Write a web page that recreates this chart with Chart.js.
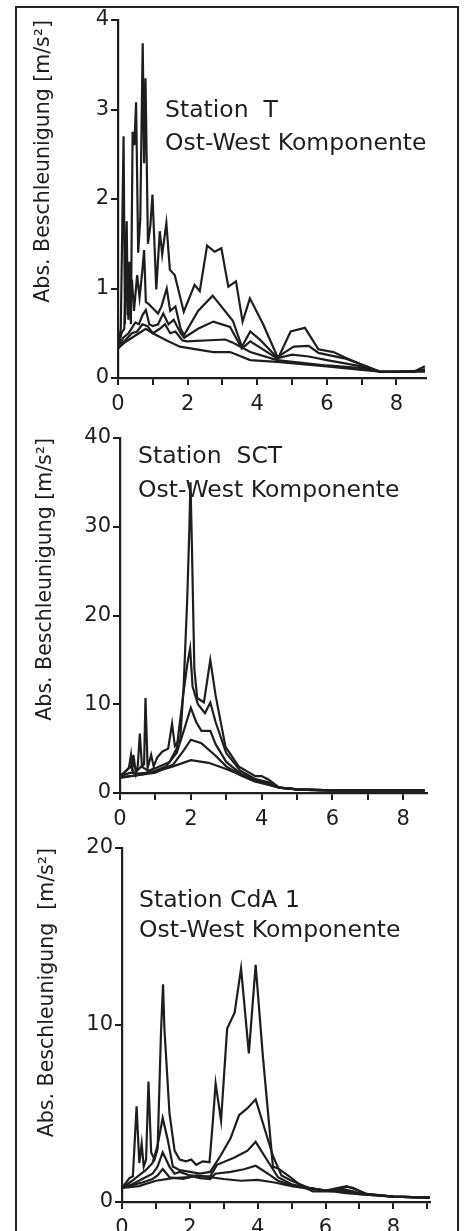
<!DOCTYPE html>
<html>
<head>
<meta charset="utf-8">
<title>Abs. Beschleunigung - Ost-West Komponente</title>
<script src="https://cdn.jsdelivr.net/npm/chart.js@4.4.1/dist/chart.umd.min.js"></script>
<style>
  html, body { margin: 0; padding: 0; background: #fff; }
  body { width: 466px; height: 1231px; position: relative; overflow: hidden; }
  #frame { position: absolute; left: 15px; top: 6px; width: 440px; height: 1260px;
           border: 2px solid #222; border-bottom: none; }
  canvas { position: absolute; left: 0; }
</style>
</head>
<body>
<div id="frame"></div>
<canvas id="chartT" width="466" height="418" style="top:0"></canvas>
<canvas id="chartSCT" width="466" height="414" style="top:418px"></canvas>
<canvas id="chartCdA" width="466" height="430" style="top:832px"></canvas>

<script>
// Tick labels
const xTickLabels = ['0', '2', '4', '6', '8'];
const yTicksT = [0, 1, 2, 3, 4];
const yTicksSCT = [0, 10, 20, 30, 40];
const yTicksCdA = [0, 10, 20];
const yTitle = 'Abs. Beschleunigung [m/s²]';

// Station T, five spectra  [x, value]
const tCurve1 = [[0,0.33],[0.08,0.55],[0.16,2.7],[0.2,0.6],[0.25,1.75],[0.28,0.7],[0.33,1.3],[0.37,0.6],[0.42,2.75],[0.47,2.6],[0.52,3.08],[0.58,1.4],[0.64,1.78],[0.71,3.74],[0.75,2.4],[0.79,3.35],[0.86,1.5],[0.93,1.7],[0.99,2.05],[1.1,0.99],[1.2,1.64],[1.27,1.38],[1.39,1.73],[1.49,1.21],[1.63,1.15],[1.89,0.74],[2.2,1.04],[2.35,0.97],[2.56,1.48],[2.78,1.41],[2.97,1.45],[3.17,1.02],[3.39,1.08],[3.58,0.63],[3.79,0.89],[4.17,0.6],[4.6,0.22],[4.96,0.52],[5.37,0.56],[5.76,0.32],[6.19,0.29],[6.57,0.22],[7.0,0.15],[7.53,0.07],[8.49,0.07],[8.82,0.13]];
const tCurve2 = [[0,0.33],[0.1,0.5],[0.18,0.55],[0.24,1.32],[0.3,0.65],[0.4,1.1],[0.46,0.75],[0.55,1.15],[0.62,0.9],[0.7,1.2],[0.75,1.43],[0.8,0.85],[0.9,0.82],[1.0,0.78],[1.15,0.72],[1.25,0.8],[1.4,1.0],[1.5,0.75],[1.65,0.8],[1.8,0.55],[1.9,0.48],[2.3,0.75],[2.72,0.92],[3.3,0.64],[3.56,0.35],[3.8,0.52],[4.1,0.42],[4.57,0.23],[5.05,0.35],[5.48,0.36],[5.76,0.28],[6.5,0.22],[7.0,0.15],[7.53,0.07],[8.5,0.07],[8.82,0.1]];
const tCurve3 = [[0,0.33],[0.15,0.45],[0.3,0.5],[0.5,0.62],[0.6,0.6],[0.7,0.7],[0.8,0.76],[0.9,0.6],[1.0,0.58],[1.15,0.6],[1.3,0.72],[1.45,0.6],[1.6,0.65],[1.8,0.5],[1.9,0.45],[2.3,0.55],[2.74,0.63],[3.22,0.57],[3.56,0.33],[3.8,0.41],[4.57,0.22],[5.0,0.26],[5.48,0.24],[6.0,0.2],[7.0,0.13],[7.53,0.07],[8.5,0.07],[8.82,0.09]];
const tCurve4 = [[0,0.33],[0.2,0.42],[0.4,0.5],[0.55,0.52],[0.7,0.6],[0.85,0.58],[1.0,0.5],[1.2,0.55],[1.35,0.6],[1.5,0.5],[1.65,0.52],[1.85,0.42],[1.98,0.41],[3.08,0.43],[3.32,0.39],[3.8,0.29],[4.57,0.2],[6.0,0.14],[7.0,0.11],[7.53,0.07],[8.82,0.08]];
const tCurve5 = [[0,0.33],[0.2,0.4],[0.4,0.45],[0.6,0.5],[0.8,0.55],[1.0,0.5],[1.4,0.42],[1.78,0.35],[2.74,0.29],[3.22,0.29],[3.8,0.2],[4.57,0.18],[6.0,0.13],[7.0,0.09],[7.53,0.07],[8.82,0.07]];

// Station SCT
const sctCurve1 = [[0,1.9],[0.1,2.2],[0.25,2.8],[0.31,4.3],[0.35,2.5],[0.38,4.3],[0.45,2.2],[0.5,3],[0.56,6.7],[0.62,3],[0.68,3.2],[0.72,10.7],[0.78,2.8],[0.88,4.3],[0.95,3],[1.05,4],[1.19,4.65],[1.36,5.0],[1.47,7.8],[1.55,5.3],[1.7,6],[1.8,12.2],[1.9,22],[1.96,30],[1.99,35],[2.03,28],[2.1,14],[2.18,10.7],[2.37,10.2],[2.55,15.0],[2.7,11],[2.98,5.2],[3.35,3.0],[3.82,1.9],[4.0,1.9],[4.2,1.5],[4.5,0.6],[5.0,0.4],[5.5,0.3],[8.6,0.3]];
const sctCurve2 = [[0,1.9],[0.3,3],[0.4,2.2],[0.6,3],[0.8,2.5],[1.0,2.8],[1.4,3.5],[1.6,5],[1.8,11.5],[1.9,14.5],[1.98,16.3],[2.05,12],[2.2,10],[2.4,9],[2.55,10.2],[2.7,8],[3.0,4.5],[3.4,2.5],[3.8,1.6],[4.2,1.2],[4.5,0.6],[5,0.4],[6,0.3],[8.6,0.3]];
const sctCurve3 = [[0,1.9],[0.3,2.3],[0.5,2.2],[0.8,2.3],[1.0,2.5],[1.3,3],[1.6,4.5],[1.8,7],[2.0,9.6],[2.15,8],[2.3,7],[2.55,7.0],[2.7,5.5],[3.0,3.5],[3.4,2.2],[3.8,1.5],[4.2,1.0],[4.5,0.6],[5,0.4],[6,0.3],[8.6,0.3]];
const sctCurve4 = [[0,1.8],[0.5,2.0],[1.0,2.3],[1.5,3.2],[1.8,4.8],[2.0,6.0],[2.3,5.6],[2.7,4.2],[3.0,3.0],[3.4,2.0],[3.8,1.3],[4.2,0.9],[4.5,0.6],[5,0.4],[6,0.3],[8.6,0.3]];
const sctCurve5 = [[0,1.7],[0.5,2.0],[1.0,2.4],[1.5,3.0],[2.0,3.7],[2.5,3.4],[3.0,2.7],[3.5,1.9],[4.0,1.2],[4.5,0.6],[5,0.4],[6,0.3],[8.6,0.3]];

// Station CdA 1
const cdaCurve1 = [[0,0.8],[0.22,1.35],[0.32,1.45],[0.43,5.4],[0.51,2.2],[0.58,3.3],[0.64,2.0],[0.71,2.4],[0.78,6.8],[0.86,2.8],[0.96,2.4],[1.05,3.0],[1.15,9.6],[1.21,12.3],[1.25,9.8],[1.4,5.0],[1.55,2.9],[1.7,2.4],[1.89,2.3],[2.04,2.4],[2.19,2.1],[2.38,2.3],[2.58,2.25],[2.68,4.6],[2.76,6.7],[2.92,4.6],[3.1,9.8],[3.32,10.7],[3.51,13.2],[3.74,8.4],[3.94,13.4],[4.15,8.3],[4.45,2.0],[4.6,1.9],[4.94,1.44],[5.29,0.9],[5.63,0.6],[6.2,0.6],[6.62,0.87],[6.8,0.8],[7.2,0.45],[8.0,0.3],[9.08,0.25]];
const cdaCurve2 = [[0,0.8],[0.3,1.2],[0.5,1.5],[0.7,1.8],[0.9,2.2],[1.05,3.2],[1.2,4.75],[1.35,3.5],[1.5,2.0],[1.7,1.8],[2.0,1.7],[2.3,1.6],[2.6,1.7],[2.9,2.6],[3.2,3.6],[3.45,4.9],[3.7,5.3],[3.94,5.8],[4.45,2.6],[4.7,1.5],[5.0,1.2],[5.5,0.8],[6.0,0.65],[6.62,0.9],[6.9,0.7],[7.2,0.45],[8.0,0.3],[9.08,0.25]];
const cdaCurve3 = [[0,0.8],[0.3,1.0],[0.6,1.3],[0.9,1.6],[1.05,2.0],[1.2,2.8],[1.4,2.0],[1.55,1.6],[1.7,1.7],[2.0,1.5],[2.3,1.45],[2.6,1.45],[2.8,2.1],[3.3,2.5],[3.7,2.9],[3.94,3.4],[4.3,2.3],[4.6,1.4],[5.0,1.0],[5.5,0.8],[6.0,0.65],[6.6,0.7],[7.0,0.5],[8.0,0.3],[9.08,0.25]];
const cdaCurve4 = [[0,0.8],[0.3,0.95],[0.6,1.1],[0.9,1.3],[1.05,1.5],[1.2,1.86],[1.4,1.4],[1.6,1.35],[1.8,1.3],[2.09,1.44],[2.3,1.35],[2.6,1.3],[2.75,1.6],[3.2,1.7],[3.6,1.85],[3.94,2.05],[4.3,1.6],[4.6,1.2],[5.0,0.95],[5.5,0.8],[6.0,0.65],[6.6,0.6],[7.0,0.45],[8.0,0.3],[9.08,0.25]];
const cdaCurve5 = [[0,0.8],[0.5,0.9],[1.0,1.2],[1.5,1.35],[2.0,1.4],[2.2,1.5],[2.6,1.4],[3.0,1.3],[3.5,1.2],[4.0,1.25],[4.5,1.1],[5.0,0.9],[5.5,0.75],[6.0,0.65],[6.6,0.5],[7.0,0.45],[8.0,0.3],[9.08,0.25]];

const INK = '#1e1e1e';
const FONT = '"DejaVu Sans", sans-serif';

// station name and component written inside the plot
const notesPlugin = {
    id: 'notes',
    beforeDatasetsDraw(chart, args, opts) {
        const ctx = chart.ctx;
        ctx.save();
        ctx.fillStyle = INK;
        ctx.font = '23.5px ' + FONT;
        ctx.textBaseline = 'alphabetic';
        (opts.lines || []).forEach(l => ctx.fillText(l.text, l.x, l.y));
        ctx.restore();
    }
};

const makePanel = (id, series, cfg) => {
    const ctx = document.getElementById(id).getContext('2d');
    return new Chart(ctx, {
        type: 'line',
        data: {
            datasets: series.map(s => ({
                data: s.map(p => ({ x: p[0], y: p[1] })),
                borderColor: INK,
                borderWidth: 2.2,
                pointRadius: 0,
                tension: 0,
                fill: false
            }))
        },
        options: {
            responsive: false,
            animation: false,
            layout: { padding: cfg.padding },
            plugins: {
                legend: { display: false },
                tooltip: { enabled: false },
                notes: { lines: cfg.notes }
            },
            scales: {
                x: {
                    type: 'linear',
                    min: 0,
                    max: cfg.xMax,
                    afterFit: s => { s.height = cfg.xHeight; },
                    ticks: {
                        stepSize: 1,
                        includeBounds: false,
                        autoSkip: false,
                        maxRotation: 0,
                        padding: 7,
                        color: INK,
                        font: { family: FONT, size: 21 },
                        callback: v => xTickLabels.includes(String(v)) ? String(v) : ''
                    },
                    grid: { drawOnChartArea: false, tickLength: 7, color: INK, lineWidth: 2 },
                    border: { color: INK, width: 2.2 }
                },
                y: {
                    min: 0,
                    max: cfg.yTicks[cfg.yTicks.length - 1],
                    afterFit: s => { s.width = 100; },
                    afterBuildTicks: s => { s.ticks = cfg.yTicks.map(v => ({ value: v })); },
                    ticks: {
                        padding: 2,
                        color: INK,
                        font: { family: FONT, size: 21 }
                    },
                    grid: { drawOnChartArea: false, tickLength: 7, color: INK, lineWidth: 2 },
                    border: { color: INK, width: 2.2 },
                    title: {
                        display: true,
                        text: cfg.title,
                        align: 'end',
                        color: INK,
                        padding: { top: 13 },
                        font: { family: FONT, size: 20.5 }
                    }
                }
            }
        },
        plugins: [notesPlugin]
    });
};

makePanel('chartT', [tCurve1, tCurve2, tCurve3, tCurve4, tCurve5], {
    padding: { left: 18, top: 20, right: 40, bottom: 0 },
    xMax: 8.85, xHeight: 40, yTicks: yTicksT, title: yTitle,
    notes: [{ text: 'Station  T', x: 165, y: 117 }, { text: 'Ost-West Komponente', x: 165, y: 150 }]
});

makePanel('chartSCT', [sctCurve1, sctCurve2, sctCurve3, sctCurve4, sctCurve5], {
    padding: { left: 20, top: 20, right: 39, bottom: 0 },
    xMax: 8.67, xHeight: 39, yTicks: yTicksSCT, title: yTitle,
    notes: [{ text: 'Station  SCT', x: 138, y: 45 }, { text: 'Ost-West Komponente', x: 138, y: 79 }]
});

makePanel('chartCdA', [cdaCurve1, cdaCurve2, cdaCurve3, cdaCurve4, cdaCurve5], {
    padding: { left: 22, top: 16, right: 36, bottom: 0 },
    xMax: 9.08, xHeight: 60, yTicks: yTicksCdA, title: 'Abs. Beschleunigung  [m/s²]',
    notes: [{ text: 'Station CdA 1', x: 139, y: 75 }, { text: 'Ost-West Komponente', x: 139, y: 105 }]
});
</script>
</body>
</html>
